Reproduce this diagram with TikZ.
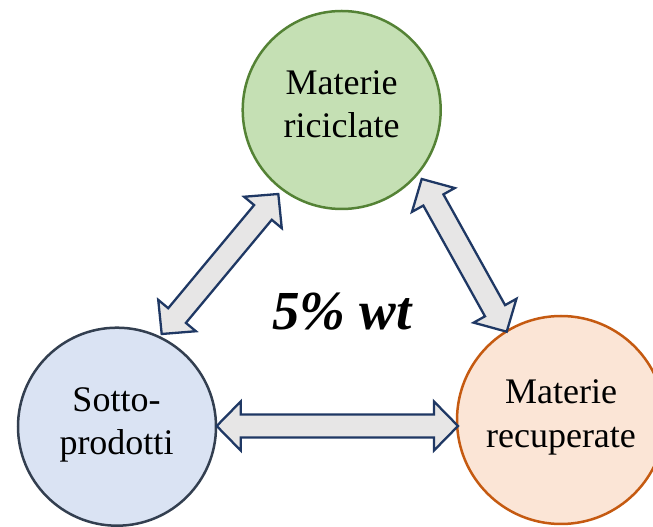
\documentclass[tikz,border=0pt]{standalone}
\usepackage{fontspec}
\setmainfont{Liberation Serif}
\usetikzlibrary{calc}
\definecolor{gfill}{HTML}{C5E0B4}
\definecolor{gdraw}{HTML}{548235}
\definecolor{bfill}{HTML}{DAE3F3}
\definecolor{bdraw}{HTML}{333F50}
\definecolor{ofill}{HTML}{FBE5D6}
\definecolor{odraw}{HTML}{C55A11}
\definecolor{afill}{HTML}{E7E6E6}
\definecolor{adraw}{HTML}{1F3864}
\tikzset{
  circ/.style={circle, line width=2.5pt, inner sep=0pt, outer sep=0pt},
  lbl/.style={anchor=base, inner sep=0pt, font=\fontsize{36}{43}\selectfont},
  blockarrow/.style={fill=afill, draw=adraw, line width=2.3pt, line join=miter},
}
% block double arrow between two named coordinates
\newcommand\dblockarrow[2]{%
  \draw[blockarrow] (#1)
    -- ($(#1)!24pt!(#2)!24.5pt!90:(#2)$)
    -- ($(#1)!24pt!(#2)!11.5pt!90:(#2)$)
    -- ($(#2)!24pt!(#1)!11.5pt!-90:(#1)$)
    -- ($(#2)!24pt!(#1)!24.5pt!-90:(#1)$)
    -- (#2)
    -- ($(#2)!24pt!(#1)!24.5pt!90:(#1)$)
    -- ($(#2)!24pt!(#1)!11.5pt!90:(#1)$)
    -- ($(#1)!24pt!(#2)!11.5pt!-90:(#2)$)
    -- ($(#1)!24pt!(#2)!24.5pt!-90:(#2)$)
    -- cycle;}
\begin{document}
\begin{tikzpicture}[x=1pt,y=1pt]
\useasboundingbox (0,0) rectangle (653,527);
\clip (0,0) rectangle (653,527);
% circles
\node[circ, fill=gfill, draw=gdraw, minimum size=198pt] (T) at (341.7,417) {};
\node[circ, fill=bfill, draw=bdraw, minimum size=198pt] (L) at (117,100.3) {};
\node[circ, fill=ofill, draw=odraw, minimum size=208pt] (R) at (561,107) {};
% labels
\node[lbl] (T1) at ($(T)+(0,15.5)$) {Materie};
\node[lbl] (T2) at ($(T)+(0,-28)$) {riciclate};
\node[lbl] (L1) at ($(L)+(-0.5,15.5)$) {Sotto-};
\node[lbl] (L2) at ($(L)+(-0.5,-28)$) {prodotti};
\node[lbl] (R1) at ($(R)+(0,16.5)$) {Materie};
\node[lbl] (R2) at ($(R)+(0,-28)$) {recuperate};
\node[anchor=base, inner sep=0pt, font=\fontsize{55}{60}\selectfont\bfseries\itshape] (P) at (342,197) {5\% wt};
% arrow tips
\coordinate (a1) at (161.7,193);
\coordinate (a2) at (278.3,333);
\coordinate (b1) at (421.7,348);
\coordinate (b2) at (506.7,195.3);
\coordinate (c1) at (216.7,101);
\coordinate (c2) at (458,101);
\dblockarrow{a1}{a2}
\dblockarrow{b1}{b2}
\dblockarrow{c1}{c2}
\end{tikzpicture}
\end{document}
